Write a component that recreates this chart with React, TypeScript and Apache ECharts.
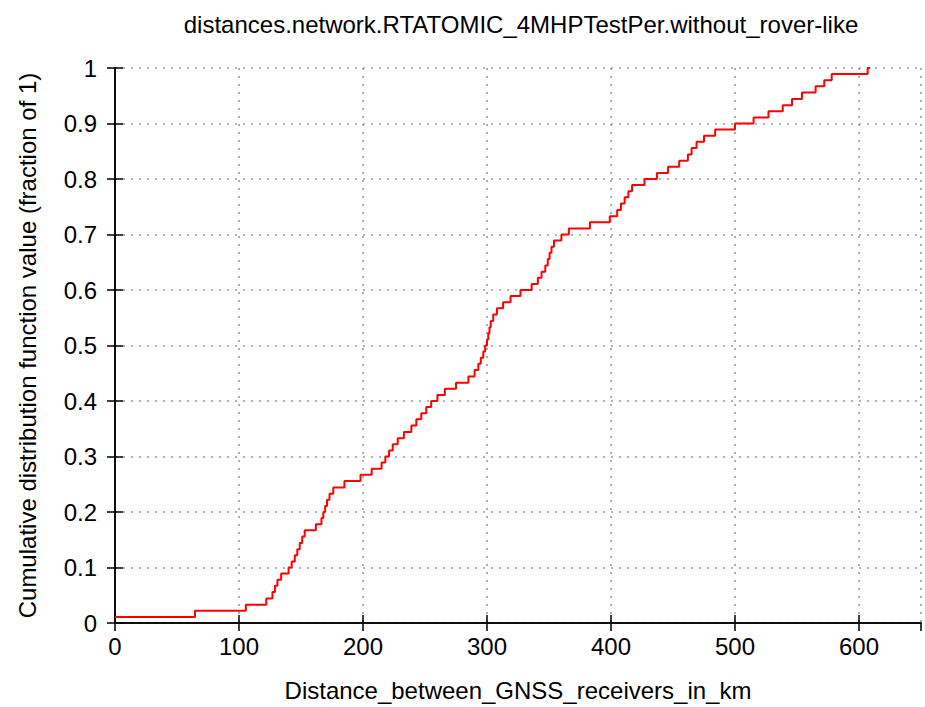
import React, { useEffect, useRef } from "react";
import * as echarts from "echarts";

const titleText = "distances.network.RTATOMIC_4MHPTestPer.without_rover-like";
const xAxisName = "Distance_between_GNSS_receivers_in_km";
const yAxisName = "Cumulative distribution function value (fraction of 1)";

// start of each plateau of the empirical CDF (km)
const stepDistance = [
  0, 64.5, 105.5, 122, 127, 129, 131, 134, 140, 142.5,
  145, 147, 149, 151, 153, 162, 166.5, 168, 169.5, 171,
  173, 176, 185, 198, 207, 215, 218, 221, 224, 228,
  233, 239, 243, 247, 251, 255, 260, 266, 275, 285,
  290, 293, 295, 297, 298.5, 300, 301, 302, 303, 305,
  308, 313, 319, 327, 336, 341, 344, 347, 349, 350.5,
  352, 354, 360, 366, 383, 399, 405, 408, 411, 414,
  417, 427, 437, 446, 455, 462, 465, 469, 475, 484,
  500, 515, 527, 538.5, 546, 554, 565, 572, 578, 607, 609,
];
// CDF value on each plateau
const stepValue = [
  0.011, 0.022, 0.033, 0.044, 0.056, 0.067, 0.078, 0.089, 0.1, 0.111,
  0.122, 0.133, 0.144, 0.156, 0.167, 0.178, 0.189, 0.2, 0.211, 0.222,
  0.233, 0.244, 0.256, 0.267, 0.278, 0.289, 0.3, 0.311, 0.322, 0.333,
  0.344, 0.356, 0.367, 0.378, 0.389, 0.4, 0.411, 0.422, 0.433, 0.444,
  0.456, 0.467, 0.478, 0.489, 0.5, 0.511, 0.522, 0.533, 0.544, 0.556,
  0.567, 0.578, 0.589, 0.6, 0.611, 0.622, 0.633, 0.644, 0.656, 0.667,
  0.678, 0.689, 0.7, 0.711, 0.722, 0.733, 0.744, 0.756, 0.767, 0.778,
  0.789, 0.8, 0.811, 0.822, 0.833, 0.844, 0.856, 0.867, 0.878, 0.889,
  0.9, 0.911, 0.922, 0.933, 0.944, 0.956, 0.967, 0.978, 0.989, 1.0, 1.0,
];

const xMin = 0, xMax = 650, xInterval = 100;
const yMin = 0, yMax = 1, yInterval = 0.1;

const FONT = "Liberation Sans";
const FS = 24;

export default function App() {
  const ref = useRef<HTMLDivElement>(null);
  useEffect(() => {
    if (!ref.current) return;
    const chart = echarts.init(ref.current, null, { renderer: "svg" });
    const data = stepDistance.map((d, i) => [d, stepValue[i]]);
    const axisLine = { show: true, lineStyle: { color: "#000", width: 1.5 } };
    const tick = { show: true, inside: true, length: 8, lineStyle: { color: "#000", width: 1.5 } };
    const grid = { show: true, lineStyle: { color: "#9a9a9a", width: 1.6, type: [2, 6] as any } };
    chart.setOption({
      animation: false,
      backgroundColor: "#fff",
      title: {
        text: titleText,
        left: 516,
        top: 7,
        textAlign: "center",
        textStyle: { fontFamily: FONT, fontSize: FS, fontWeight: "normal", color: "#000" },
      },
      grid: { left: 115, right: 4, top: 68, bottom: 83, containLabel: false },
      xAxis: [
        {
          type: "value", min: xMin, max: xMax, interval: xInterval,
          name: xAxisName, nameLocation: "middle", nameGap: 55,
          nameTextStyle: { fontFamily: FONT, fontSize: FS, color: "#000" },
          axisLine, axisTick: tick, splitLine: grid,
          axisLabel: { showMaxLabel: false, margin: 11, fontFamily: FONT, fontSize: FS, color: "#000" },
        },
        {
          type: "value", position: "top", min: xMin, max: xMax, interval: xInterval,
          axisLine, axisTick: tick, splitLine: { show: false }, axisLabel: { show: false },
        },
      ],
      yAxis: [
        {
          type: "value", min: yMin, max: yMax, interval: yInterval,
          name: yAxisName, nameLocation: "middle", nameGap: 76, nameRotate: 90,
          nameTextStyle: { fontFamily: FONT, fontSize: FS, color: "#000" },
          axisLine, axisTick: tick, splitLine: grid,
          axisLabel: { margin: 18, fontFamily: FONT, fontSize: FS, color: "#000" },
        },
        {
          type: "value", position: "right", min: yMin, max: yMax, interval: yInterval,
          axisLine, axisTick: tick, splitLine: { show: false }, axisLabel: { show: false },
        },
      ],
      series: [
        {
          type: "line", step: "end", xAxisIndex: 0, yAxisIndex: 0,
          data, showSymbol: false, symbol: "none",
          lineStyle: { color: "#ff0000", width: 2 },
        },
      ],
    });
    return () => chart.dispose();
  }, []);
  return (
    <div
      ref={ref}
      style={{ position: "fixed", left: 0, top: 0, width: 925, height: 707, background: "#fff" }}
    />
  );
}
